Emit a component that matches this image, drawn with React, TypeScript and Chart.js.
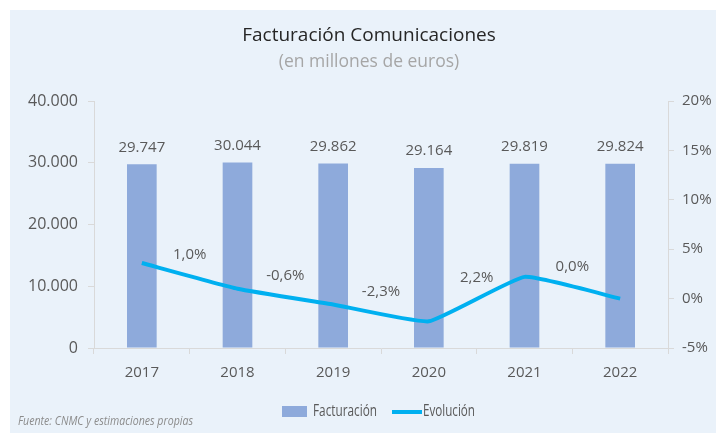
import React, { useEffect, useRef } from "react";
import { Chart, registerables } from "chart.js";
Chart.register(...registerables);

const categories = ["2017", "2018", "2019", "2020", "2021", "2022"];
const facturacion = [29747, 30044, 29862, 29164, 29819, 29824];
const evolucion = [3.6, 1.0, -0.6, -2.3, 2.2, 0.0];
const evolucionLabels = ["", "1,0%", "-0,6%", "-2,3%", "2,2%", "0,0%"];
const leftTicks = [0, 10000, 20000, 30000, 40000];
const rightTicks = [-5, 0, 5, 10, 15, 20];
const titleText = "Facturación Comunicaciones";
const subtitleText = "(en millones de euros)";
const sourceText = "Fuente: CNMC y estimaciones propias";
const legendLabels = ["Facturación", "Evolución"];

const FONT = "'Open Sans', sans-serif";
const BAR_COLOR = "#8eaadb";
const LINE_COLOR = "#00b0f0";
const TEXT_COLOR = "#595959";
const AXIS_COLOR = "#d9d9d9";
const BG = "#eaf2fa";

const fmt = (n: number) => String(n).replace(/\B(?=(\d{3})+(?!\d))/g, ".");

const decorPlugin = {
  id: "decor",
  beforeDraw(chart: any) {
    const ctx = chart.ctx;
    ctx.save();
    ctx.fillStyle = "#ffffff";
    ctx.fillRect(0, 0, chart.width, chart.height);
    ctx.fillStyle = BG;
    ctx.fillRect(10, 10, 706, 423);
    // title
    ctx.textAlign = "center";
    ctx.textBaseline = "middle";
    ctx.fillStyle = "#262626";
    ctx.font = `19px ${FONT}`;
    ctx.fillText(titleText, 369, 36, 257);
    ctx.fillStyle = "#a6a6a6";
    ctx.font = `17.5px ${FONT}`;
    ctx.fillText(subtitleText, 369, 62, 185);
    // source
    ctx.textAlign = "left";
    ctx.fillStyle = "#8c8c8c";
    ctx.font = `italic 13.5px ${FONT}`;
    ctx.fillText(sourceText, 18, 421, 175);
    // legend
    ctx.fillStyle = BAR_COLOR;
    ctx.fillRect(282, 406, 25, 11);
    ctx.fillStyle = TEXT_COLOR;
    ctx.font = `16.5px ${FONT}`;
    ctx.fillText(legendLabels[0], 313, 411, 64);
    ctx.strokeStyle = LINE_COLOR;
    ctx.lineWidth = 4;
    ctx.beginPath();
    ctx.moveTo(392, 412);
    ctx.lineTo(422, 412);
    ctx.stroke();
    ctx.fillText(legendLabels[1], 423, 411, 52);
    ctx.restore();
  },
  afterDatasetsDraw(chart: any) {
    const ctx = chart.ctx;
    ctx.save();
    ctx.textAlign = "center";
    ctx.textBaseline = "middle";
    ctx.fillStyle = TEXT_COLOR;
    ctx.font = `15px ${FONT}`;
    const bars = chart.getDatasetMeta(0).data;
    bars.forEach((el: any, i: number) => {
      ctx.fillText(fmt(facturacion[i]), el.x, el.y - 17);
    });
    const pts = chart.getDatasetMeta(1).data;
    for (let i = 1; i < pts.length; i++) {
      const x = (pts[i - 1].x + pts[i].x) / 2;
      const y = (pts[i - 1].y + pts[i].y) / 2 - 21;
      ctx.fillText(evolucionLabels[i], x, y);
    }
    ctx.restore();
  },
};

export default function App() {
  const ref = useRef<HTMLCanvasElement>(null);
  useEffect(() => {
    if (!ref.current) return;
    const chart = new Chart(ref.current, {
      type: "bar",
      data: {
        labels: categories,
        datasets: [
          {
            type: "bar",
            label: legendLabels[0],
            data: facturacion,
            backgroundColor: BAR_COLOR,
            yAxisID: "y",
            barPercentage: 0.62,
            categoryPercentage: 0.5,
            order: 2,
          },
          {
            type: "line",
            label: legendLabels[1],
            data: evolucion,
            borderColor: LINE_COLOR,
            borderWidth: 4,
            pointRadius: 0,
            tension: 0.12,
            yAxisID: "y1",
            order: 1,
          } as any,
        ],
      },
      options: {
        responsive: false,
        animation: false,
        layout: { padding: { top: 101, left: 20, right: 0, bottom: 46 } },
        plugins: {
          legend: { display: false },
          title: { display: false },
          tooltip: { enabled: false },
        },
        scales: {
          x: {
            grid: {
              drawOnChartArea: false,
              drawTicks: true,
              tickLength: 6,
              color: AXIS_COLOR,
              offset: true,
            },
            border: { display: true, color: AXIS_COLOR },
            ticks: { color: TEXT_COLOR, font: { family: FONT, size: 15 }, padding: 10 },
            afterFit: (s: any) => {
              s.height = 40;
            },
          },
          y: {
            position: "left",
            min: 0,
            max: 40000,
            afterBuildTicks: (s: any) => {
              s.ticks = leftTicks.map((v) => ({ value: v }));
            },
            grid: { drawOnChartArea: false, drawTicks: true, tickLength: 6, color: AXIS_COLOR },
            border: { display: true, color: AXIS_COLOR },
            ticks: {
              color: TEXT_COLOR,
              font: { family: FONT, size: 16 },
              padding: 10,
              callback: (v: any) => fmt(Number(v)),
            },
            afterFit: (s: any) => {
              s.width = 74;
            },
          },
          y1: {
            position: "right",
            min: -5,
            max: 20,
            afterBuildTicks: (s: any) => {
              s.ticks = rightTicks.map((v) => ({ value: v }));
            },
            grid: { drawOnChartArea: false, drawTicks: true, tickLength: 6, color: AXIS_COLOR },
            border: { display: true, color: AXIS_COLOR },
            ticks: {
              color: TEXT_COLOR,
              font: { family: FONT, size: 15 },
              padding: 8,
              callback: (v: any) => `${v}%`,
            },
            afterFit: (s: any) => {
              s.width = 49;
            },
          },
        },
      } as any,
      plugins: [decorPlugin],
    });
    return () => chart.destroy();
  }, []);
  return (
    <div style={{ position: "fixed", left: 0, top: 0, width: 717, height: 434 }}>
      <canvas ref={ref} width={717} height={434} style={{ width: 717, height: 434 }} />
    </div>
  );
}
